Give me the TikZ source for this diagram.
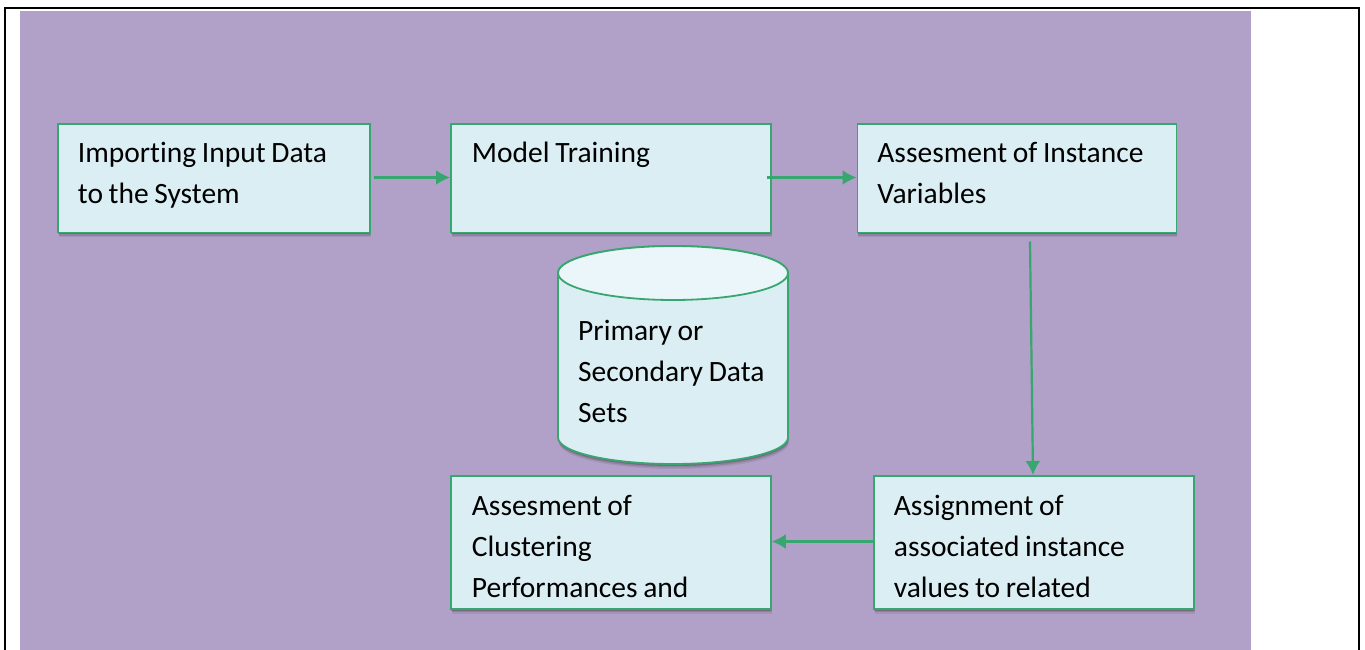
\documentclass[tikz,border=0pt]{standalone}
\usepackage{fontspec}
\setmainfont{Carlito}[Ligatures=NoCommon,WordSpace=0.85]
\usetikzlibrary{shapes.geometric,shadows,arrows.meta}
\definecolor{bgpurple}{HTML}{B1A0C7}
\definecolor{boxfill}{HTML}{DBEEF4}
\definecolor{boxedge}{HTML}{37A76F}
\definecolor{topfill}{HTML}{EBF6FA}
\tikzset{
  softshadow/.style={preaction={fill=black,opacity=.07,transform canvas={xshift=1pt,yshift=-5pt}},
                     preaction={fill=black,opacity=.12,transform canvas={xshift=.7pt,yshift=-3.5pt}},
                     preaction={fill=black,opacity=.18,transform canvas={xshift=.4pt,yshift=-2pt}}},
  flowbox/.style={draw=boxedge,line width=1.8pt,fill=boxfill,softshadow,rectangle,inner sep=0pt,
    anchor=north west,align=flush left,font=\fontsize{29.5}{41}\selectfont},
  flowarrow/.style={draw=boxedge,line width=2.2pt,-{Latex[length=14pt,width=15pt]}},
  celltext/.style={inner sep=0pt,anchor=north west,align=left,font=\fontsize{29.5}{41}\selectfont},
}
\begin{document}
\begin{tikzpicture}[x=1pt,y=-1pt]
\useasboundingbox (0,0) rectangle (1365,650);
\fill[bgpurple] (20,11) rectangle (1251,650);
\draw[black,line width=2.5pt] (5,650) -- (5,8) -- (1359,8) -- (1359,650);
% boxes
\node[flowbox,minimum width=312pt,minimum height=108pt,text width=272pt,text depth=52pt] (imp) at (57,123.5) {Importing Input Data\\to the System};
\node[flowbox,minimum width=320pt,minimum height=108pt,text width=278pt,text depth=52pt] (train) at (450,123.5) {Model Training\\\mbox{}};
\node[flowbox,minimum width=319pt,minimum height=108pt,text width=279pt,text depth=52pt] (inst) at (856.5,123.5) {Assesment of Instance\\Variables};
\node[flowbox,minimum width=320pt,minimum height=133pt,text width=278pt,text depth=75pt] (clus) at (450,475) {Assesment of\\Clustering\\Performances and};
\node[flowbox,minimum width=320pt,minimum height=133pt,text width=280pt,text depth=75pt] (assign) at (873,475) {Assignment of\\associated instance\\values to related};
% cylinder
\path[softshadow] (558,273) -- (558,437.5) arc[start angle=180,end angle=360,x radius=115,y radius=-26.5] -- (788,273) arc[start angle=0,end angle=180,x radius=115,y radius=-27] -- cycle;
\draw[boxedge,line width=1.8pt,fill=boxfill] (558,273) -- (558,437.5) arc[start angle=180,end angle=360,x radius=115,y radius=-26.5] -- (788,273) arc[start angle=0,end angle=180,x radius=115,y radius=-27] -- cycle;
\draw[boxedge,line width=1.8pt,fill=topfill] (673,273) ellipse[x radius=115,y radius=27];
\node[celltext] (data) at (578,320.5) {Primary or\\Secondary Data\\Sets};
% free ends
\coordinate (s1) at (374,177.5);
\coordinate (s2) at (767,177.5);
\coordinate (s3) at (1030,241.5);
\coordinate (t3) at (1033,475);
\draw[flowarrow] (s1) -- (train.west |- s1);
\draw[flowarrow] (s2) -- (inst.west |- s2);
\draw[flowarrow] (s3) -- (t3);
\coordinate (s4) at (assign.west |- 0,541.5);
\draw[flowarrow] (s4) -- (clus.east |- s4);
\end{tikzpicture}
\end{document}
